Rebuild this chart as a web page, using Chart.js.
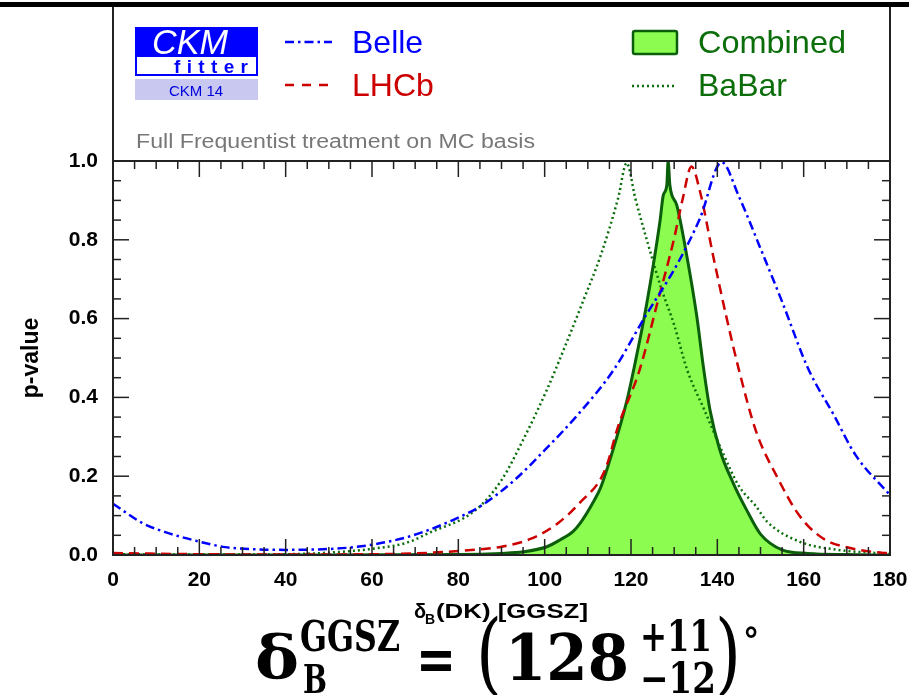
<!DOCTYPE html>
<html>
<head>
<meta charset="utf-8">
<script src="https://cdn.jsdelivr.net/npm/chart.js@4.4.1/dist/chart.umd.min.js"></script>
<style>
  html, body { margin:0; padding:0; background:#fff; }
  #wrap { position:relative; width:909px; height:695px; overflow:hidden; }
  #chart { position:absolute; left:0; top:0; }
  #over { position:absolute; left:0; top:0; pointer-events:none; }
  .sans { font-family: "Liberation Sans", Arial, sans-serif; }
  .serif { font-family: "DejaVu Serif Condensed", "DejaVu Serif", serif; font-weight:bold; font-stretch:condensed; }
  .paren { font-family: "DejaVu Serif", serif; font-weight:normal; }
</style>
</head>
<body>
<div id="wrap">
<canvas id="chart" width="909" height="695"></canvas>
<svg id="over" width="909" height="695" xmlns="http://www.w3.org/2000/svg">
  <!-- frame above the plot -->
  <rect x="0" y="2" width="909" height="5" fill="#000"/>
  <line x1="113" y1="7" x2="113" y2="161" stroke="#222" stroke-width="2"/>
  <line x1="890" y1="7" x2="890" y2="161" stroke="#222" stroke-width="2"/>

  <!-- CKMfitter logo -->
  <rect x="135" y="27" width="123" height="30" fill="#0000ff"/>
  <text class="sans" x="152" y="54" font-size="35" font-style="italic" fill="#fff" textLength="76" lengthAdjust="spacingAndGlyphs">CKM</text>
  <rect x="136" y="56" width="121" height="19" fill="#fff" stroke="#0000ff" stroke-width="2"/>
  <text class="sans" x="174" y="73" font-size="19" font-weight="bold" fill="#0000ff" textLength="74" lengthAdjust="spacing">fitter</text>
  <rect x="135" y="79" width="123" height="21" fill="#c8c8f0"/>
  <text class="sans" x="196" y="96" font-size="15" fill="#0000dd" text-anchor="middle">CKM 14</text>

  <!-- legend -->
  <line x1="285" y1="42" x2="332" y2="42" stroke="#0000ff" stroke-width="2.5" stroke-dasharray="9,4,2.5,4"/>
  <text class="sans" x="352" y="53" font-size="32" fill="#0000ff">Belle</text>
  <line x1="285" y1="85" x2="332" y2="85" stroke="#cc0000" stroke-width="2.5" stroke-dasharray="9,8"/>
  <text class="sans" x="352" y="96" font-size="32" fill="#cc0000">LHCb</text>
  <rect x="633" y="31" width="44" height="23" rx="2" fill="#8cfc50" stroke="#0b5f0b" stroke-width="2.5"/>
  <text class="sans" x="698" y="53" font-size="32" fill="#0b6e0b" textLength="148" lengthAdjust="spacingAndGlyphs">Combined</text>
  <line x1="632" y1="86" x2="676" y2="86" stroke="#0b6e0b" stroke-width="2.5" stroke-dasharray="2,3"/>
  <text class="sans" x="698" y="96" font-size="32" fill="#0b6e0b">BaBar</text>
  <text class="sans" x="136" y="148" font-size="20" fill="#777" textLength="399" lengthAdjust="spacingAndGlyphs">Full Frequentist treatment on MC basis</text>

  <!-- x axis title -->
  <text class="sans" x="414" y="618" font-size="20" font-weight="bold" fill="#000">δ</text>
  <text class="sans" x="425" y="624" font-size="14" font-weight="bold" fill="#000">B</text>
  <text class="sans" x="436" y="618" font-size="20" font-weight="bold" fill="#000" textLength="152" lengthAdjust="spacingAndGlyphs">(DK) [GGSZ]</text>

  <!-- result -->
  <text class="serif" x="255" y="679" font-size="60" textLength="44" lengthAdjust="spacingAndGlyphs">δ</text>
  <text class="serif" x="300" y="651" font-size="42" textLength="100" lengthAdjust="spacingAndGlyphs">GGSZ</text>
  <text class="serif" x="303" y="693" font-size="40" textLength="24" lengthAdjust="spacingAndGlyphs">B</text>
  <text class="serif" x="416" y="680" font-size="60" textLength="40" lengthAdjust="spacingAndGlyphs">=</text>
  <text class="paren" x="476" y="684" font-size="90" textLength="26" lengthAdjust="spacingAndGlyphs">(</text>
  <text class="serif" x="505" y="680" font-size="64" textLength="124" lengthAdjust="spacingAndGlyphs">128</text>
  <text class="serif" x="640" y="651" font-size="42" textLength="72" lengthAdjust="spacingAndGlyphs">+11</text>
  <text class="serif" x="640" y="693" font-size="42" textLength="76" lengthAdjust="spacingAndGlyphs">−12</text>
  <text class="paren" x="715" y="684" font-size="90" textLength="26" lengthAdjust="spacingAndGlyphs">)</text>
  <text class="serif" x="743" y="653" font-size="36">°</text>
</svg>
</div>
<script>
// delta_B scan points (degrees, p-value)
const belleX = [0, 7, 13, 20, 26, 34, 40, 47, 55, 61, 68, 73, 79, 85, 93, 100, 108, 116, 123, 131, 136, 141, 145, 150, 155, 161, 167, 172, 180];
const belleP = [0.130, 0.080, 0.055, 0.034, 0.020, 0.014, 0.013, 0.014, 0.019, 0.028, 0.045, 0.063, 0.090, 0.123, 0.190, 0.266, 0.360, 0.470, 0.600, 0.744, 0.855, 0.997, 0.910, 0.778, 0.643, 0.474, 0.355, 0.254, 0.152];

const lhcbX = [0, 20, 40, 60, 70, 81, 90, 97, 103, 108, 114, 117, 122, 126, 130, 132, 134, 136, 139, 142, 145, 149, 154, 159, 164.5, 171, 178, 180];
const lhcbP = [0.005, 0.002, 0.001, 0.002, 0.004, 0.011, 0.021, 0.042, 0.080, 0.131, 0.216, 0.326, 0.470, 0.635, 0.804, 0.905, 0.986, 0.922, 0.761, 0.609, 0.470, 0.313, 0.195, 0.100, 0.042, 0.017, 0.006, 0.005];

const babarX = [0, 20, 40, 50, 61, 68, 73, 84, 90, 95, 100.5, 105, 109, 113, 117, 119, 121, 124, 127, 130, 133, 137, 141, 145, 149, 151.5, 159, 168, 180];
const babarP = [0.002, 0.001, 0.002, 0.006, 0.017, 0.031, 0.055, 0.114, 0.190, 0.292, 0.419, 0.537, 0.647, 0.761, 0.905, 0.995, 0.905, 0.787, 0.677, 0.584, 0.470, 0.368, 0.266, 0.175, 0.123, 0.085, 0.034, 0.013, 0.003];

const combX = [0, 40, 80, 90, 95, 100.5, 103.5, 106.6, 108.2, 111.3, 113, 115.5, 119, 121, 123.6, 126.7, 127.5, 128.3, 128.6, 129, 130.6, 132.9, 135.2, 136.8, 138.3, 140.6, 143.7, 146.8, 150, 155, 161, 170, 180];
const combP = [0, 0, 0.001, 0.004, 0.008, 0.021, 0.038, 0.060, 0.080, 0.135, 0.172, 0.255, 0.390, 0.490, 0.635, 0.846, 0.914, 0.939, 1.0, 0.939, 0.888, 0.761, 0.609, 0.475, 0.368, 0.266, 0.182, 0.114, 0.053, 0.013, 0.004, 0.001, 0];

function series(label, xs, ps, color, dash, width) {
    return {
        label, data: xs.map((x, i) => ({x, y: ps[i]})),
        borderColor: color, borderDash: dash, borderWidth: width,
        pointRadius: 0, fill: false, cubicInterpolationMode: 'monotone'
    };
}

// ROOT style box: inward ticks on all four sides
const rootFrame = {
    id: 'rootFrame',
    afterDatasetsDraw(chart) {
        const {ctx, chartArea: a, scales: {x, y}} = chart;
        const seg = (x1, y1, x2, y2) => { ctx.beginPath(); ctx.moveTo(x1, y1); ctx.lineTo(x2, y2); ctx.stroke(); };
        ctx.save();
        ctx.strokeStyle = '#222';
        ctx.lineWidth = 1.5;
        for (let v = 0; v <= 180; v += 5) {
            const px = x.getPixelForValue(v);
            const len = v % 20 === 0 ? 16 : 8;
            seg(px, a.bottom, px, a.bottom - len);
            seg(px, a.top, px, a.top + len);
        }
        for (let i = 0; i <= 20; i++) {
            const py = y.getPixelForValue(i * 0.05);
            const len = i % 4 === 0 ? 16 : 8;
            seg(a.left, py, a.left + len, py);
            seg(a.right, py, a.right - len, py);
        }
        ctx.lineWidth = 2;
        ctx.strokeRect(a.left, a.top, a.right - a.left, a.bottom - a.top);
        ctx.restore();
    }
};

const tickFont = {family: '"Liberation Sans", Arial, sans-serif', size: 21, weight: 'bold'};

new Chart(document.getElementById('chart'), {
    type: 'line',
    data: {
        datasets: [
            series('Belle', belleX, belleP, '#0000ff', [9, 4, 2.5, 4], 2.5),
            series('LHCb', lhcbX, lhcbP, '#cc0000', [10, 6], 2.5),
            series('BaBar', babarX, babarP, '#0b6e0b', [2, 3], 2.5),
            Object.assign(series('Combined', combX, combP, '#0b5f0b', [], 3),
                {fill: 'origin', backgroundColor: '#8cfc50'})
        ]
    },
    options: {
        responsive: false, animation: false, devicePixelRatio: 1,
        layout: {padding: {left: 0, right: 19, top: 161, bottom: 0}},
        plugins: {legend: {display: false}, tooltip: {enabled: false}},
        scales: {
            x: {
                type: 'linear', min: 0, max: 180,
                afterFit: s => { s.height = 140; s.paddingLeft = 0; s.paddingRight = 0; },
                grid: {display: false, drawTicks: false}, border: {display: false},
                ticks: {stepSize: 20, autoSkip: false, maxRotation: 0, padding: 13, color: '#000', font: tickFont}
            },
            y: {
                min: 0, max: 1,
                afterFit: s => { s.width = 113; s.paddingTop = 0; s.paddingBottom = 0; },
                grid: {display: false, drawTicks: false}, border: {display: false},
                ticks: {stepSize: 0.2, padding: 15, color: '#000', font: tickFont, callback: v => v.toFixed(1)},
                title: {display: true, text: 'p-value', color: '#000', padding: {top: 18},
                        font: {family: '"Liberation Sans", Arial, sans-serif', size: 23, weight: 'bold'}}
            }
        }
    },
    plugins: [rootFrame]
});
</script>
</body>
</html>
